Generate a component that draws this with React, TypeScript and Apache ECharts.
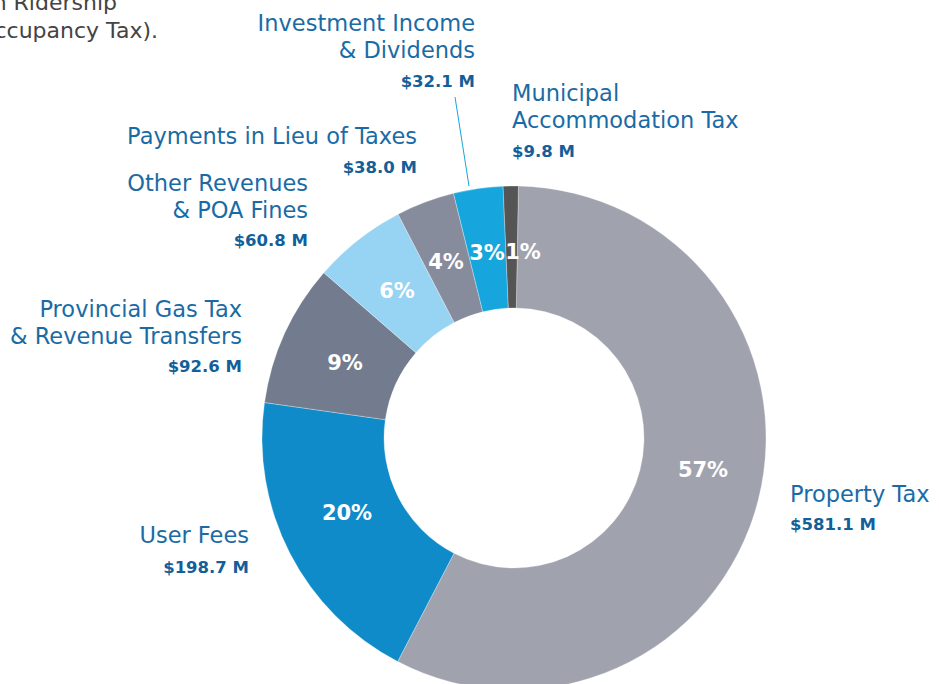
import React, { useEffect, useRef } from "react";
import * as echarts from "echarts";

const categories = [
  "Property Tax",
  "User Fees",
  "Provincial Gas Tax\n& Revenue Transfers",
  "Other Revenues\n& POA Fines",
  "Payments in Lieu of Taxes",
  "Investment Income\n& Dividends",
  "Municipal\nAccommodation Tax",
];
const values = [581.1, 198.7, 92.6, 60.8, 38.0, 32.1, 9.8];
const valueLabels = ["$581.1 M", "$198.7 M", "$92.6 M", "$60.8 M", "$38.0 M", "$32.1 M", "$9.8 M"];
const colors = ["#a0a3ad", "#0e8bc8", "#737c8e", "#97d3f2", "#878c9d", "#16a6dd", "#555555"];

// outer label placement: [x, align, first line center y, value center y]
const labelPos: [number, string, number, number][] = [
  [790, "left", 494, 524],
  [249, "right", 535, 567],
  [242, "right", 309, 366],
  [308, "right", 183, 240],
  [417, "right", 136, 167],
  [475, "right", 23, 81],
  [512, "left", 93, 151],
];
// percent label centres
const pctPos: [number, number][] = [
  [703, 470],
  [347, 513],
  [345, 363],
  [397, 291],
  [446, 262],
  [487, 253],
  [523, 252],
];

const FONT = "'DejaVu Sans', 'Open Sans', sans-serif";
const NAME_COLOR = "#1a6ba5";
const VALUE_COLOR = "#135f9a";

export default function App() {
  const ref = useRef<HTMLDivElement>(null);
  useEffect(() => {
    if (!ref.current) return;
    const chart = echarts.init(ref.current, undefined, { renderer: "svg" });
    const total = values.reduce((a, b) => a + b, 0);
    const graphics: any[] = [];
    const LH = 27;
    categories.forEach((name, i) => {
      const [x, align, y1, vy] = labelPos[i];
      graphics.push({
        type: "text",
        x,
        y: y1 - LH / 2,
        style: {
          text: name,
          fill: NAME_COLOR,
          font: `22.5px ${FONT}`,
          lineHeight: LH,
          align,
          verticalAlign: "top",
        },
      });
      graphics.push({
        type: "text",
        x,
        y: vy,
        style: {
          text: valueLabels[i],
          fill: VALUE_COLOR,
          font: `bold 16.5px ${FONT}`,
          align,
          verticalAlign: "middle",
        },
      });
    });
    // leader line for Investment Income
    graphics.push({
      type: "line",
      shape: { x1: 455, y1: 97, x2: 469, y2: 186 },
      style: { stroke: "#16a6dd", lineWidth: 1 },
    });
    // cropped body text at top-left
    graphics.push({
      type: "text",
      x: 117,
      y: 2,
      style: { text: "on Ridership", fill: "#444", font: `22px ${FONT}`, align: "right", verticalAlign: "middle" },
    });
    graphics.push({
      type: "text",
      x: 158,
      y: 30,
      style: { text: "(Hotel Occupancy Tax).", fill: "#444", font: `22px ${FONT}`, align: "right", verticalAlign: "middle" },
    });

    chart.setOption({
      animation: false,
      backgroundColor: "#ffffff",
      graphic: graphics,
      series: [
        {
          type: "pie",
          center: [514, 438],
          radius: [130, 252],
          startAngle: 89,
          clockwise: true,
          avoidLabelOverlap: false,
          itemStyle: { borderColor: "rgba(255,255,255,0.6)", borderWidth: 0.5 },
          label: {
            show: true,
            position: "inside",
            color: "#ffffff",
            fontFamily: FONT,
            fontWeight: "bold",
            fontSize: 21,
            formatter: (p: any) => `${Math.round((p.value / total) * 100)}%`,
          },
          labelLayout: (p: any) => ({
            x: pctPos[p.dataIndex][0],
            y: pctPos[p.dataIndex][1],
            align: "center",
            verticalAlign: "middle",
          }),
          labelLine: { show: false },
          data: categories.map((n, i) => ({
            name: n,
            value: values[i],
            itemStyle: { color: colors[i] },
          })),
        },
      ],
    });
    return () => chart.dispose();
  }, []);
  return (
    <div
      ref={ref}
      style={{ position: "fixed", left: 0, top: 0, width: 939, height: 684 }}
    />
  );
}
